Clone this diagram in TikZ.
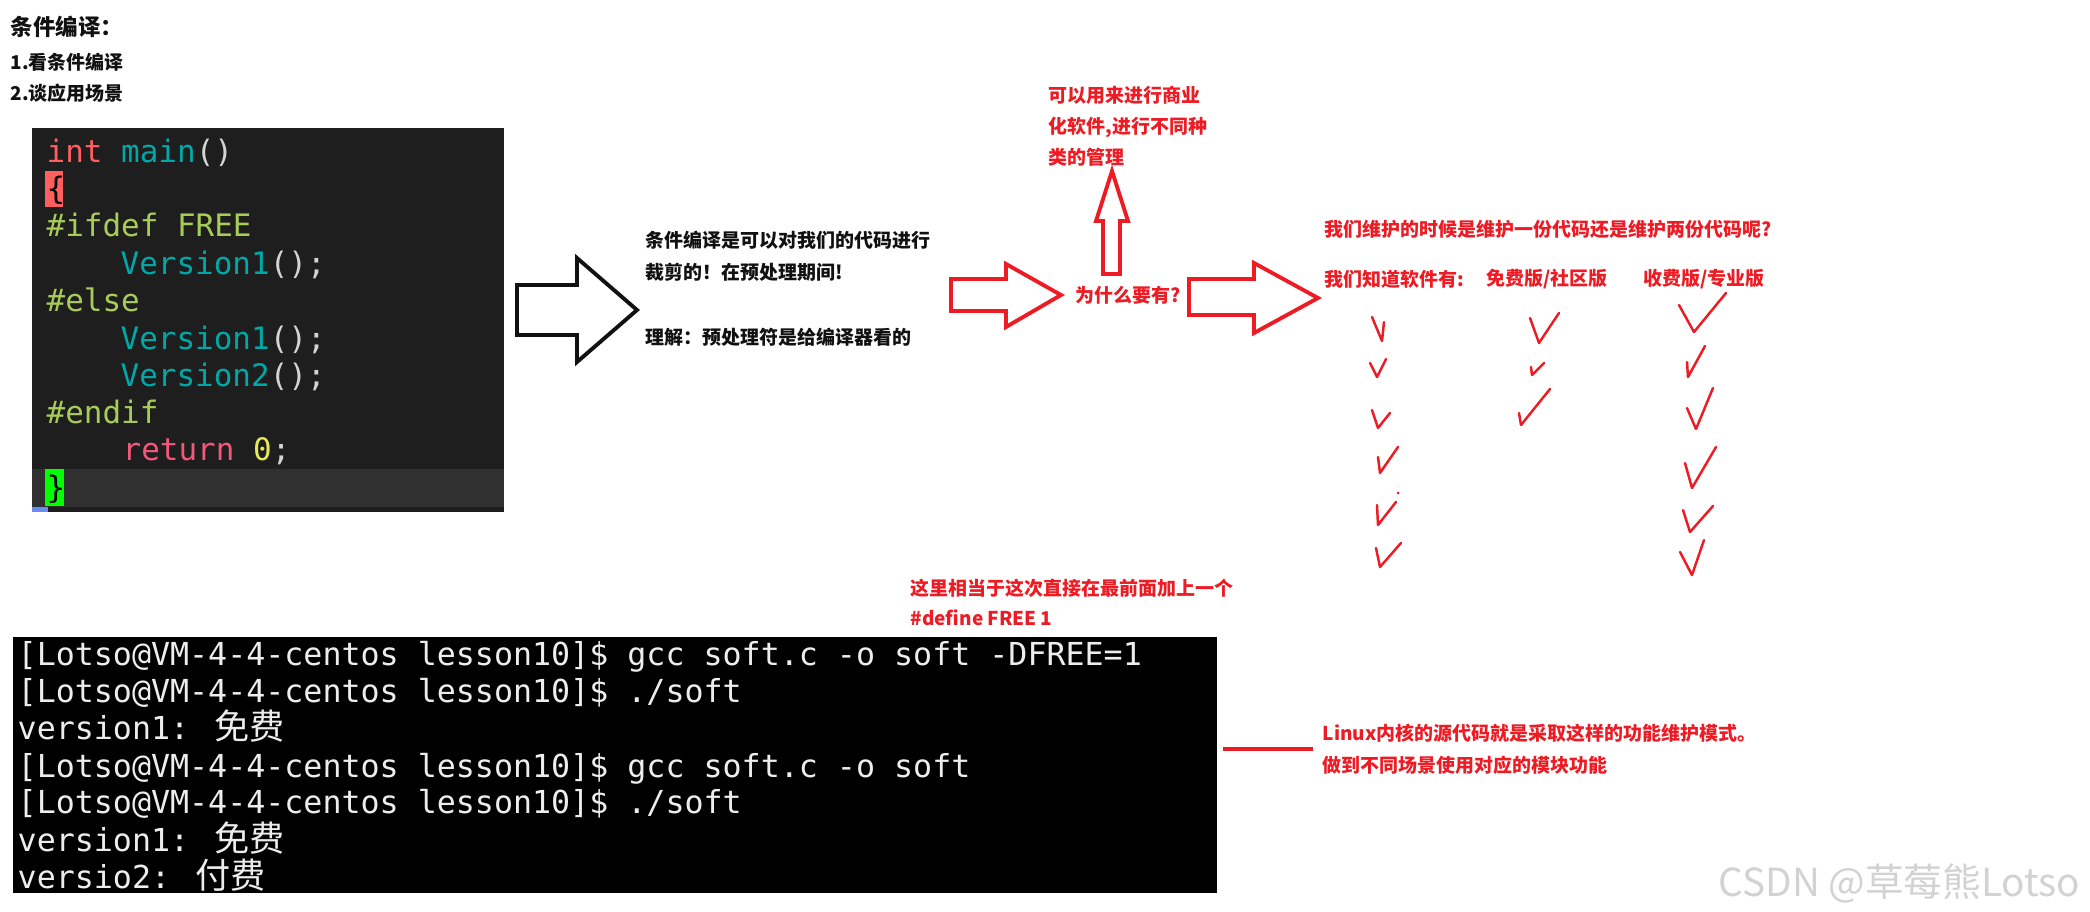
\documentclass[tikz,border=0pt]{standalone}
\usepackage{fontspec}
\setmainfont{Liberation Sans}
\newfontfamily\cjk{Noto Sans CJK SC}
\newfontfamily\codefont{DejaVu Sans Mono}
\usetikzlibrary{positioning}
\definecolor{LessonRed}{HTML}{ED1C24}
\definecolor{LessonInk}{HTML}{111111}
\definecolor{CodeBg}{HTML}{1E1E1E}
\definecolor{CodeLine}{HTML}{303030}
\definecolor{CodeKey}{HTML}{FF5F5F}
\definecolor{CodeFunc}{HTML}{00A8A8}
\definecolor{CodePre}{HTML}{A8CC58}
\definecolor{CodePunct}{HTML}{D4D4D4}
\definecolor{CodeRet}{HTML}{F2587A}
\definecolor{CodeNum}{HTML}{E8E85A}
\definecolor{CodeMark}{HTML}{6A8CF0}
\definecolor{TermFg}{HTML}{EDEDED}
\definecolor{MarkGray}{HTML}{D2D2D2}
\tikzset{
  lesson text/.style={inner sep=0pt, anchor=west, align=left, font=\cjk\bfseries\fontsize{5.4}{9.1}\selectfont, text=LessonInk},
  lesson note/.style={lesson text, text=LessonRed},
  code line/.style={inner sep=0pt, anchor=base west, font=\codefont\fontsize{8.8}{10}\selectfont, text=CodePunct},
  term line/.style={inner sep=0pt, anchor=base west, font=\codefont\fontsize{9}{11}\selectfont, text=TermFg},
  hollow arrow/.style={draw=LessonInk, line width=1.1pt, line join=miter},
  red arrow/.style={draw=LessonRed, line width=1.1pt, line join=miter},
  tick/.style={draw=LessonRed, line width=.7pt, line cap=round, line join=round},
}

\begin{document}
\begin{tikzpicture}[x=0.01cm,y=-0.01cm]
  \useasboundingbox (0,0) rectangle (2090,912);

  % heading and the two points of the lesson
  \node[lesson text, font=\cjk\bfseries\fontsize{6.4}{7.7}\selectfont] (title) at (10,27) {条件编译：};
  \node[lesson text] (point one) at (10,62) {1.看条件编译};
  \node[lesson text] (point two) at (10,93) {2.谈应用场景};

  % editor screenshot of the conditional code
  \fill[CodeBg] (32,128) rectangle (504,512);
  \fill[CodeLine] (32,469) rectangle (504,507);
  \fill[CodeMark] (32,507) rectangle (48,512);
  \fill[CodeKey] (45,171) rectangle (63,207);
  \fill[green] (45,469) rectangle (64,506);
  \node[code line] (code main) at (46,162) {\textcolor{CodeKey}{int} \textcolor{CodeFunc}{main}()};
  \node[code line, text=black] (code open) at (46,199) {\{};
  \node[code line, text=CodePre] (code ifdef) at (46,236) {\#ifdef FREE};
  \node[code line] (code v1a) at (120,274) {\textcolor{CodeFunc}{Version1}();};
  \node[code line, text=CodePre] (code else) at (46,311) {\#else};
  \node[code line] (code v1b) at (120,349) {\textcolor{CodeFunc}{Version1}();};
  \node[code line] (code v2) at (120,386) {\textcolor{CodeFunc}{Version2}();};
  \node[code line, text=CodePre] (code endif) at (46,423) {\#endif};
  \node[code line] (code ret) at (122,460) {\textcolor{CodeRet}{return} \textcolor{CodeNum}{0};};
  \node[code line, text=black] (code close) at (46,498) {\}};

  % hollow arrow to the explanation
  \draw[hollow arrow] (517,285) -- (577,285) -- (577,258) -- (637,310) -- (577,362) -- (577,335) -- (517,335) -- cycle;
  \node[lesson text] (explain) at (645,256) {条件编译是可以对我们的代码进行\\裁剪的！在预处理期间!};
  \node[lesson text] (understand) at (645,337) {理解：预处理符是给编译器看的};

  % why: red arrows
  \draw[red arrow] (951,279) -- (1006,279) -- (1006,264) -- (1061,295) -- (1006,327) -- (1006,311) -- (951,311) -- cycle;
  \node[lesson note] (why) at (1075,295) {为什么要有?};
  \draw[red arrow] (1103,274) -- (1103,221) -- (1096,221) -- (1112,171) -- (1128,221) -- (1120,221) -- (1120,274) -- cycle;
  \node[lesson note, font=\cjk\bfseries\fontsize{5.4}{8.8}\selectfont] (business) at (1048,126) {可以用来进行商业\\化软件,进行不同种\\类的管理};
  \draw[red arrow] (1189,279) -- (1254,279) -- (1254,263) -- (1318,298) -- (1254,333) -- (1254,315) -- (1189,315) -- cycle;

  % versions and their features
  \node[lesson note] (maintain) at (1324,229) {我们维护的时候是维护一份代码还是维护两份代码呢?};
  \node[lesson note] (known) at (1324,279) {我们知道软件有:};
  \node[lesson note] (free) at (1486,279) {免费版/社区版};
  \node[lesson note] (paid) at (1643,279) {收费版/专业版};
  \foreach \ax/\ay/\bx/\by/\cx/\cy in {
      1372/317/1382/341/1384/322, 1370/363/1377/377/1386/359, 1372/410/1378/428/1390/413,
      1378/457/1380/473/1398/447, 1377/505/1378/525/1396/502, 1376/548/1380/567/1401/543,
      1530/318/1539/343/1559/313, 1531/367/1532/375/1544/363, 1519/413/1521/425/1550/389,
      1679/305/1694/332/1726/293, 1687/362/1688/377/1705/346, 1687/408/1696/429/1713/388,
      1685/463/1692/488/1716/447, 1683/510/1690/532/1713/506, 1680/552/1692/575/1704/540}
    \draw[tick] (\ax,\ay) -- (\bx,\by) -- (\cx,\cy);
  \fill[LessonRed] (1398,493) circle (1.5);

  % terminal run with and without -DFREE
  \node[lesson note, font=\cjk\bfseries\fontsize{5.4}{8.5}\selectfont] (define note) at (910,602) {这里相当于这次直接在最前面加上一个\\\#define FREE 1};
  \fill[black] (13,637) rectangle (1217,893);
  \node[term line] (run one) at (17,665) {[Lotso@VM-4-4-centos lesson10]\$ gcc soft.c -o soft -DFREE=1};
  \node[term line] (exec one) at (17,702) {[Lotso@VM-4-4-centos lesson10]\$ ./soft};
  \node[term line] (out one) at (17,739) {version1: {\cjk\fontsize{10}{11}\selectfont 免费}};
  \node[term line] (run two) at (17,777) {[Lotso@VM-4-4-centos lesson10]\$ gcc soft.c -o soft};
  \node[term line] (exec two) at (17,813) {[Lotso@VM-4-4-centos lesson10]\$ ./soft};
  \node[term line] (out two) at (17,851) {version1: {\cjk\fontsize{10}{11}\selectfont 免费}};
  \node[term line] (out three) at (17,888) {versio2: {\cjk\fontsize{10}{11}\selectfont 付费}};

  % linux kernel remark
  \coordinate (dash start) at (1223,749);
  \node[lesson note] (linux) at (1322,749) {Linux内核的源代码就是采取这样的功能维护模式。\\做到不同场景使用对应的模块功能};
  \draw[LessonRed, line width=1.1pt] (dash start) -- ([xshift=-0.09cm]linux.west);

  \node[inner sep=0pt, anchor=west, font=\cjk\fontsize{11}{13}\selectfont, text=MarkGray] (mark) at (1718,883) {CSDN @草莓熊Lotso};
\end{tikzpicture}
\end{document}
